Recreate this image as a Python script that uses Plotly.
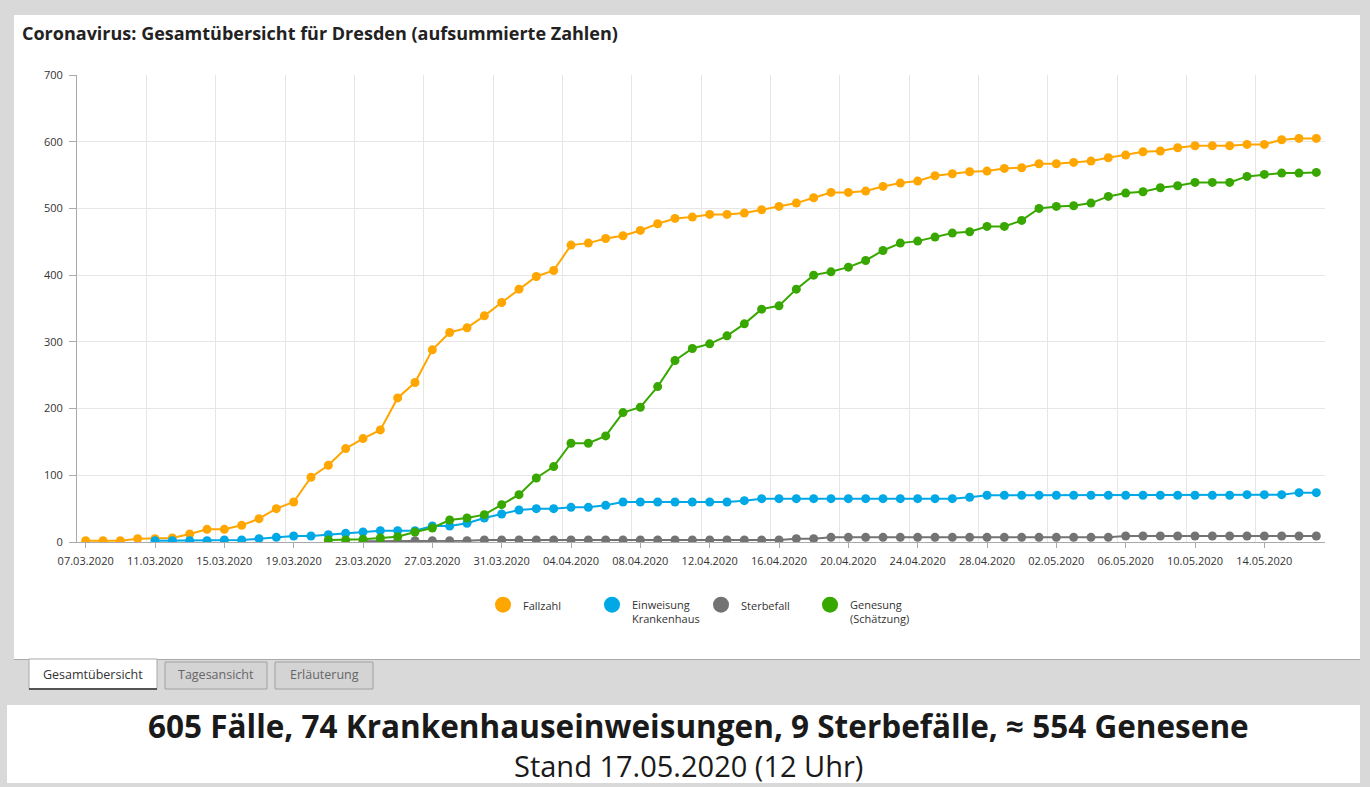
import pandas as pd
import plotly.graph_objects as go

# ---------------- data ----------------
dates = pd.date_range("2020-03-07", "2020-05-17", freq="D")

fallzahl = [2, 2, 2, 5, 5, 6, 12, 19, 19, 25,
            35, 50, 60, 97, 115, 140, 155, 168, 216, 239,
            288, 314, 321, 339, 359, 379, 398, 407, 445, 448,
            455, 459, 467, 477, 485, 487, 491, 491, 493, 498,
            503, 508, 516, 524, 524, 526, 533, 538, 541, 549,
            552, 555, 556, 560, 561, 567, 567, 569, 571, 576,
            580, 585, 586, 591, 594, 594, 594, 596, 596, 603,
            605, 605]

einweisung = [None, None, None, None,
              2, 2, 2, 2, 3, 3, 5, 7, 9, 9,
              11, 13, 15, 17, 17, 17, 24, 24, 28, 36,
              42, 48, 50, 50, 52, 52, 55, 60, 60, 60,
              60, 60, 60, 60, 62, 65, 65, 65, 65, 65,
              65, 65, 65, 65, 65, 65, 65, 67, 70, 70,
              70, 70, 70, 70, 70, 70, 70, 70, 70, 70,
              70, 70, 70, 71, 71, 71, 74, 74]

sterbefall = [None] * 16 + [
              1, 1, 1, 2, 2, 2, 2, 3, 3, 3,
              3, 3, 3, 3, 3, 3, 3, 3, 3, 3,
              3, 3, 3, 3, 3, 5, 5, 7, 7, 7,
              7, 7, 7, 7, 7, 7, 7, 7, 7, 7,
              7, 7, 7, 7, 9, 9, 9, 9, 9, 9,
              9, 9, 9, 9, 9, 9]

genesung = [None] * 14 + [
            3, 3, 4, 6, 8, 15, 21, 33, 36, 41,
            56, 71, 96, 113, 148, 148, 159, 194, 202, 233,
            272, 290, 297, 309, 327, 349, 354, 379, 400, 405,
            412, 422, 437, 448, 451, 457, 463, 465, 473, 473,
            482, 500, 503, 504, 508, 518, 523, 525, 531, 534,
            539, 539, 539, 548, 551, 553, 553, 554]

series_names = ["Fallzahl", "Einweisung<br>Krankenhaus", "Sterbefall", "Genesung<br>(Schätzung)"]
series_values = [fallzahl, einweisung, sterbefall, genesung]
series_colors = ["#ffa600", "#00a8e6", "#737373", "#38a800"]

tick_dates = pd.date_range("2020-03-07", "2020-05-14", freq="4D")
tick_labels = [d.strftime("%d.%m.%Y") for d in tick_dates]

title_text = "Coronavirus: Gesamtübersicht für Dresden (aufsummierte Zahlen)"
headline = "605 Fälle, 74 Krankenhauseinweisungen, 9 Sterbefälle, ≈ 554 Genesene"
subline = "Stand 17.05.2020 (12 Uhr)"
tab_labels = ["Gesamtübersicht", "Tagesansicht", "Erläuterung"]

# ---------------- layout geometry (pixels) ----------------
W, H = 1370, 787
PL, PR, PT, PB = 77, 1325, 75, 542
FONT = "'Open Sans', Lato, sans-serif"


def fx(px):
    return (px - PL) / (PR - PL)


def fy(py):
    return (PB - py) / (PB - PT)


fig = go.Figure()

for name, vals, col in zip(series_names, series_values, series_colors):
    fig.add_trace(go.Scatter(
        x=dates, y=vals, mode="lines+markers", name=name,
        line=dict(color=col, width=2),
        marker=dict(color=col, size=9),
        showlegend=False,
    ))

# legend entries (circles only)
for name, col in zip(series_names, series_colors):
    fig.add_trace(go.Scatter(
        x=[None], y=[None], mode="markers", name=name,
        marker=dict(color=col, size=16),
        showlegend=True,
    ))

shapes = []
# white panels
shapes.append(dict(type="rect", xref="paper", yref="paper", layer="below",
                   x0=fx(14), x1=fx(1360), y0=fy(659), y1=fy(15),
                   fillcolor="white", line=dict(width=0)))
shapes.append(dict(type="rect", xref="paper", yref="paper", layer="below",
                   x0=fx(7), x1=fx(1360), y0=fy(783), y1=fy(705),
                   fillcolor="white", line=dict(width=0)))
# panel bottom border
shapes.append(dict(type="line", xref="paper", yref="paper",
                   x0=fx(14), x1=fx(1360), y0=fy(659.5), y1=fy(659.5),
                   line=dict(color="#a8a8a8", width=1)))
# tabs
tab_boxes = [(29, 157), (165, 267), (275, 373)]
for i, (a, b) in enumerate(tab_boxes):
    if i == 0:
        shapes.append(dict(type="rect", xref="paper", yref="paper",
                           x0=fx(a), x1=fx(b), y0=fy(689), y1=fy(659),
                           fillcolor="white", line=dict(color="#a8a8a8", width=1)))
        shapes.append(dict(type="line", xref="paper", yref="paper",
                           x0=fx(a), x1=fx(b), y0=fy(689), y1=fy(689),
                           line=dict(color="#555555", width=2)))
    else:
        shapes.append(dict(type="rect", xref="paper", yref="paper",
                           x0=fx(a), x1=fx(b), y0=fy(689), y1=fy(662),
                           fillcolor="#d4d4d4", line=dict(color="#a0a0a0", width=1)))

annotations = [
    dict(text=f"<b>{title_text}</b>", xref="paper", yref="paper",
         x=fx(20), y=fy(33), xanchor="left", yanchor="middle", showarrow=False,
         font=dict(family=FONT, size=18, color="#222222")),
    dict(text=f"<b>{headline}</b>", xref="paper", yref="paper",
         x=fx(698), y=fy(725), xanchor="center", yanchor="middle", showarrow=False,
         font=dict(family=FONT, size=31.5, color="#1a1a1a")),
    dict(text=subline, xref="paper", yref="paper",
         x=fx(688), y=fy(765), xanchor="center", yanchor="middle", showarrow=False,
         font=dict(family=FONT, size=29, color="#1a1a1a")),
]
for i, ((a, b), lab) in enumerate(zip(tab_boxes, tab_labels)):
    annotations.append(dict(text=lab, xref="paper", yref="paper",
                            x=fx((a + b) / 2), y=fy(674), xanchor="center", yanchor="middle",
                            showarrow=False,
                            font=dict(family=FONT, size=12.5,
                                      color="#333333" if i == 0 else "#666666")))

minor_grid = pd.date_range("2020-03-06 12:00", periods=19, freq="4D")

fig.update_layout(
    width=W, height=H, autosize=False,
    margin=dict(l=PL, r=W - PR, t=PT, b=H - PB, pad=0),
    paper_bgcolor="#d9d9d9", plot_bgcolor="white",
    font=dict(family=FONT, size=11, color="#333333"),
    shapes=shapes, annotations=annotations,
    showlegend=True,
    legend=dict(orientation="h", xref="container", yref="container",
                x=483 / W, y=1 - 591 / H, xanchor="left", yanchor="top",
                entrywidth=64, entrywidthmode="pixels", valign="top",
                font=dict(family=FONT, size=11, color="#333333"),
                bgcolor="rgba(0,0,0,0)", itemclick=False),
    xaxis=dict(
        type="date",
        range=["2020-03-06 12:00", "2020-05-17 12:00"],
        tickmode="array", tickvals=tick_dates, ticktext=tick_labels,
        showgrid=False, ticks="outside", ticklen=5, tickcolor="#aaaaaa",
        ticklabelstandoff=4,
        showline=True, linecolor="#aaaaaa", linewidth=1,
        tickfont=dict(family=FONT, size=11, color="#333333"),
        minor=dict(tickmode="array", tickvals=minor_grid, showgrid=True,
                   gridcolor="#e6e6e6", gridwidth=1, ticks=""),
        zeroline=False, fixedrange=True,
    ),
    yaxis=dict(
        range=[0, 700], dtick=100, tick0=0,
        showgrid=True, gridcolor="#e6e6e6", gridwidth=1,
        ticks="outside", ticklen=7, tickcolor="#aaaaaa",
        ticklabelstandoff=4,
        showline=True, linecolor="#aaaaaa", linewidth=1,
        tickfont=dict(family=FONT, size=11, color="#333333"),
        zeroline=False, fixedrange=True,
    ),
)

fig.write_html("out.html", config={"displayModeBar": False},
               post_script="document.body.style.margin='0';")
